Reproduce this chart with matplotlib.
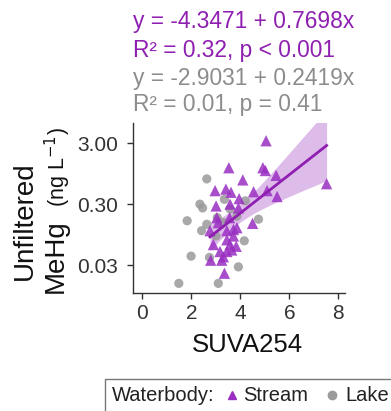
import numpy as np
import matplotlib
matplotlib.use("Agg")
import matplotlib.pyplot as plt
from matplotlib.lines import Line2D
from matplotlib.patches import Rectangle

plt.rcParams['font.family'] = ['Liberation Sans', 'DejaVu Sans']

# Stream data (SUVA254, MeHg ng/L)
stream_x = [5.05, 7.52, 3.53, 4.92, 5.02, 5.46, 4.1, 2.97, 3.41, 3.62, 4.54, 5.09, 5.5,
            3.95, 3.01, 3.58, 3.92, 3.04, 3.56, 4.5, 3.86, 2.76, 3.45, 3.72, 2.9, 3.45,
            3.58, 3.83, 3.17, 3.45, 2.79, 3.31, 3.35, 3.65, 3.24, 3.72, 3.1]
stream_y = [3.3, 0.65, 1.19, 1.19, 1.07, 0.89, 0.75, 0.50, 0.53, 0.47, 0.48, 0.50, 0.40,
            0.37, 0.28, 0.30, 0.26, 0.18, 0.18, 0.145, 0.123, 0.11, 0.11, 0.09, 0.065, 0.078,
            0.065, 0.061, 0.050, 0.050, 0.036, 0.041, 0.022, 0.053, 0.036, 0.115, 0.149]
# Lake data
lake_x = [2.63, 2.35, 2.46, 1.83, 2.63, 2.42, 3.01, 1.99, 2.74, 1.49, 3.1, 3.92, 4.16,
          4.74, 4.2, 3.35, 3.58, 3.31, 3.86, 3.06]
lake_y = [0.78, 0.30, 0.26, 0.16, 0.14, 0.11, 0.09, 0.042, 0.040, 0.015, 0.015, 0.028, 0.075,
          0.17, 0.34, 0.36, 0.25, 0.149, 0.19, 0.18]

eq_stream = ["y = -4.3471 + 0.7698x", "R² = 0.32, p < 0.001"]
eq_lake = ["y = -2.9031 + 0.2419x", "R² = 0.01, p = 0.41"]
xticks = [0, 2, 4, 6, 8]
yticks = [0.03, 0.30, 3.00]
yticklabels = ["0.03", "0.30", "3.00"]

purple = "#8E1FB0"
purple_pt = "#9A2FC2"
gray_pt = "#9A9A9A"
gray_txt = "#8C8C8C"
dark = "#333333"

W, H = 391, 411
fig = plt.figure(figsize=(W / 100, H / 100), dpi=100)
ax = fig.add_axes([133 / W, 1 - 293.3 / H, (345 - 133) / W, (293.3 - 123) / H])

ax.scatter(lake_x, lake_y, marker='o', s=44, color=gray_pt, alpha=0.85, edgecolors='none', zorder=2)
ax.scatter(stream_x, stream_y, marker='^', s=66, color=purple_pt, alpha=0.85, edgecolors='none', zorder=3)

# Fit on log scale for stream
sx = np.array(stream_x)
sy = np.log(np.array(stream_y))
n = len(sx)
b1, b0 = np.polyfit(sx, sy, 1)
xs = np.linspace(sx.min(), sx.max(), 100)
pred = b0 + b1 * xs
resid = sy - (b0 + b1 * sx)
s = np.sqrt(np.sum(resid ** 2) / (n - 2))
sxx = np.sum((sx - sx.mean()) ** 2)
se = s * np.sqrt(1 / n + (xs - sx.mean()) ** 2 / sxx)
tval = 2.03
ax.fill_between(xs, np.exp(pred - tval * se), np.exp(pred + tval * se), color="#C890DD", alpha=0.6,
                linewidth=0, zorder=1)
ax.plot(xs, np.exp(pred), color=purple, lw=2, zorder=4)

ax.set_yscale('log')
ax.set_ylim(0.0103, 6.46)
ax.set_xlim(-0.38, 8.27)
ax.set_xticks(xticks)
ax.set_xticklabels([str(t) for t in xticks], fontsize=15, color=dark)
ax.set_yticks(yticks)
ax.set_yticklabels(yticklabels, fontsize=15, color=dark)
ax.yaxis.set_minor_locator(matplotlib.ticker.NullLocator())
for sp in ['top', 'right']:
    ax.spines[sp].set_visible(False)
for sp in ['left', 'bottom']:
    ax.spines[sp].set_linewidth(1.0)
    ax.spines[sp].set_color(dark)
ax.tick_params(axis='x', length=4, width=1, color=dark, pad=4)
ax.tick_params(axis='y', length=4, width=1, color=dark, pad=7)

fig.text(247 / W, 1 - 345 / H, "SUVA254", fontsize=18.5, ha='center', va='center', color="#111111")

# Y label (two lines, second line mixed sizes)
fig.text(32 / W, 1 - 280 / H, "Unfiltered", fontsize=20, rotation=90, rotation_mode='anchor',
         ha='left', va='baseline', color="#111111")
fig.text(63 / W, 1 - 293 / H, "MeHg", fontsize=20, rotation=90, rotation_mode='anchor',
         ha='left', va='baseline', color="#111111")
fig.text(65 / W, 1 - 127 / H, "(ng L$^{-1}$)", fontsize=15.5, rotation=90, rotation_mode='anchor',
         ha='right', va='baseline', color="#111111")

# Equations
tx = 133 / W
ys = [21.7, 50, 78, 105]
for yy, txt, col in zip(ys, eq_stream + eq_lake, [purple, purple, gray_txt, gray_txt]):
    fig.text(tx, 1 - yy / H, txt, color=col, fontsize=16.4, va='center', ha='left')

# Legend box
fig.patches.append(Rectangle((105 / W, -0.01), 0.8, (411 - 379) / H + 0.01,
                             transform=fig.transFigure, fill=False, edgecolor="#777777", lw=1.0))
ly = 1 - 395 / H
fig.text(112 / W, ly, "Waterbody:", fontsize=14.5, va='center', ha='left', color="#222222")
fig.add_artist(Line2D([232 / W], [ly], marker='^', markersize=6, color=purple_pt,
                      transform=fig.transFigure, linestyle='none'))
fig.text(243 / W, ly, "Stream", fontsize=14.5, va='center', ha='left', color="#222222")
fig.add_artist(Line2D([332 / W], [ly], marker='o', markersize=6, color=gray_pt,
                      transform=fig.transFigure, linestyle='none'))
fig.text(345 / W, ly, "Lake", fontsize=14.5, va='center', ha='left', color="#222222")

fig.savefig("out.png", dpi=100)
